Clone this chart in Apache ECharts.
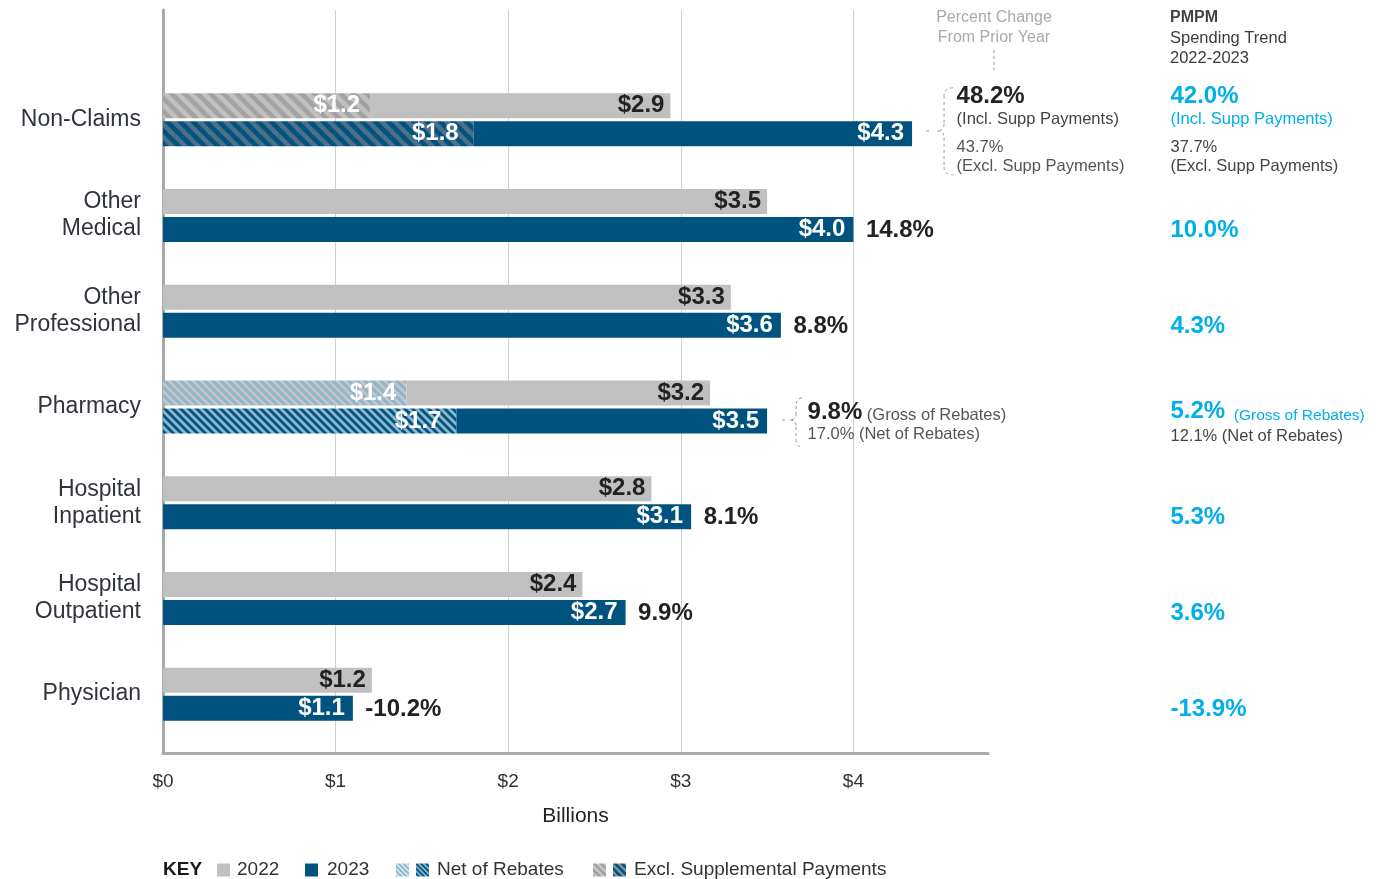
<!DOCTYPE html>
<html>
<head>
<meta charset="utf-8">
<script src="https://cdn.jsdelivr.net/npm/echarts@6/dist/echarts.min.js"></script>
<style>
html,body{margin:0;padding:0;background:#fff;}
#chart{width:1378px;height:879px;}
</style>
</head>
<body>
<div id="chart"></div>
<script>
// ---------------- DATA ----------------
const categories = ['Non-Claims', 'Other\nMedical', 'Other\nProfessional', 'Pharmacy', 'Hospital\nInpatient', 'Hospital\nOutpatient', 'Physician'];
const spend2022 = [2.94, 3.50, 3.29, 3.17, 2.83, 2.43, 1.21];
const spend2023 = [4.34, 4.00, 3.58, 3.50, 3.06, 2.68, 1.10];
// hatched portion (Excl. Supplemental Payments / Net of Rebates)
const subset2022 = [1.20, 0, 0, 1.41, 0, 0, 0];
const subset2023 = [1.80, 0, 0, 1.70, 0, 0, 0];
const subsetKind = ['supp', '', '', 'rebate', '', '', ''];
const pctChange = ['48.2%', '14.8%', '8.8%', '9.8%', '8.1%', '9.9%', '-10.2%'];
const pctChangeAlt = ['43.7%', '', '', '17.0%', '', '', ''];
const pmpmTrend = ['42.0%', '10.0%', '4.3%', '5.2%', '5.3%', '3.6%', '-13.9%'];
const pmpmTrendAlt = ['37.7%', '', '', '12.1%', '', '', ''];
const xTickLabels = ['$0', '$1', '$2', '$3', '$4'];

// ---------------- STYLE ----------------
const FONT = '"Liberation Sans", Arial, Helvetica, sans-serif';
const C22 = '#c1c0c1';
const C23 = '#01537f';
const CYAN = '#00aeea';
function stripe(bg, fg, p, w) {
  const c = document.createElement('canvas');
  c.width = p; c.height = p;
  const g = c.getContext('2d');
  g.fillStyle = bg; g.fillRect(0, 0, p, p);
  g.strokeStyle = fg; g.lineWidth = w;
  for (const k of [-p, 0, p]) {
    g.beginPath(); g.moveTo(k - 2, -2); g.lineTo(k + p + 2, p + 2); g.stroke();
  }
  return { image: c, repeat: 'repeat' };
}
const pat = {
  supp22: stripe('#c0c0c0', '#a3a3a3', 13, 4.6),
  supp23: stripe('#01537f', '#4d7088', 13, 4.6),
  reb22: stripe('#c4c4c4', '#8cb6ce', 8, 2.8),
  reb23: stripe('#01537f', '#8cb6ce', 8, 2.8)
};

const chart = echarts.init(document.getElementById('chart'), null, { renderer: 'canvas' });

const hatch22 = subset2022.map((v, i) => ({
  value: v,
  itemStyle: { color: subsetKind[i] === 'supp' ? pat.supp22 : pat.reb22 }
}));
const hatch23 = subset2023.map((v, i) => ({
  value: v,
  itemStyle: { color: subsetKind[i] === 'supp' ? pat.supp23 : pat.reb23 }
}));
const rest22 = spend2022.map((v, i) => +(v - subset2022[i]).toFixed(3));
const rest23 = spend2023.map((v, i) => +(v - subset2023[i]).toFixed(3));

const barLabelBase = { show: true, position: 'insideRight', fontSize: 24, fontWeight: 'bold', fontFamily: FONT, textBorderWidth: 0 };

const SM = 16.5;
const rich = {
  b: { fontSize: 24, fontWeight: 'bold', color: '#222', lineHeight: 26, fontFamily: FONT },
  bp: { fontSize: 24, fontWeight: 'bold', color: '#222', lineHeight: 24, fontFamily: FONT },
  s: { fontSize: SM, color: '#444', lineHeight: 20, fontFamily: FONT },
  sp: { fontSize: 1, lineHeight: 8 },
  s2: { fontSize: SM, color: '#555', lineHeight: 19, fontFamily: FONT },
  g: { fontSize: SM, color: '#555', lineHeight: 20, verticalAlign: 'bottom', fontFamily: FONT },
  n: { fontSize: SM, color: '#555', lineHeight: 20, fontFamily: FONT },
  c: { fontSize: 24, fontWeight: 'bold', color: CYAN, lineHeight: 26, fontFamily: FONT },
  cs: { fontSize: SM, color: CYAN, lineHeight: 20, fontFamily: FONT },
  cg: { fontSize: 15.5, color: CYAN, lineHeight: 20, verticalAlign: 'bottom', fontFamily: FONT },
  n2: { fontSize: SM, color: '#444', lineHeight: 24, fontFamily: FONT },
  s3: { fontSize: SM, color: '#444', lineHeight: 19, fontFamily: FONT }
};

const pctData = categories.map((cat, i) => {
  let fmt, dist = 12, dy = 15;
  if (subsetKind[i] === 'supp') {
    fmt = '{b|' + pctChange[i] + '}\n{s|(Incl. Supp Payments)}\n{sp| }\n{s2|' + pctChangeAlt[i] + '}\n{s2|(Excl. Supp Payments)}';
    dist = 44; dy = 10;
  } else if (subsetKind[i] === 'rebate') {
    fmt = '{bp|' + pctChange[i] + '}{g| (Gross of Rebates)}\n{n|' + pctChangeAlt[i] + ' (Net of Rebates)}';
    dist = 40; dy = 15;
  } else {
    fmt = '{b|' + pctChange[i] + '}';
  }
  return { value: [spend2023[i], cat], label: { formatter: fmt, distance: dist, offset: [0, dy] } };
});

const pmpmData = categories.map((cat, i) => {
  let fmt, dy = 15;
  if (subsetKind[i] === 'supp') {
    fmt = '{c|' + pmpmTrend[i] + '}\n{cs|(Incl. Supp Payments)}\n{sp| }\n{s3|' + pmpmTrendAlt[i] + '}\n{s3|(Excl. Supp Payments)}';
    dy = 10;
  } else if (subsetKind[i] === 'rebate') {
    fmt = '{c|' + pmpmTrend[i] + '}{cg|  (Gross of Rebates)}\n{n2|' + pmpmTrendAlt[i] + ' (Net of Rebates)}';
    dy = 16;
  } else {
    fmt = '{c|' + pmpmTrend[i] + '}';
  }
  return { value: [0, cat], label: { formatter: fmt, offset: [0, dy] } };
});

const option = {
  animation: false,
  backgroundColor: '#fff',
  textStyle: { fontFamily: FONT },
  grid: [
    { left: 163, width: 825, top: 10, height: 743, outerBoundsMode: 'none', containLabel: false },
    { left: 163, width: 825, top: 72, height: 670, outerBoundsMode: 'none', containLabel: false },
    { left: 1170, width: 150, top: 72, height: 670, outerBoundsMode: 'none', containLabel: false }
  ],
  xAxis: [
    {
      gridIndex: 0, type: 'value', min: 0, max: 4.78, interval: 1,
      axisLine: { show: true, onZero: false, lineStyle: { color: '#a9a9a9', width: 3 } },
      axisTick: { show: false },
      splitLine: { show: true, showMinLine: false, showMaxLine: false, lineStyle: { color: '#d0d0d0', width: 1 } },
      axisLabel: {
        show: true, color: '#333', fontSize: 19, margin: 19, fontFamily: FONT,
        showMaxLabel: false,
        formatter: v => (Number.isInteger(v) && xTickLabels[v] !== undefined) ? xTickLabels[v] : ''
      },
      name: 'Billions', nameLocation: 'middle', nameGap: 53,
      nameTextStyle: { fontSize: 21, color: '#222', fontFamily: FONT }
    },
    { gridIndex: 1, type: 'value', min: 0, max: 4.78, show: false },
    { gridIndex: 2, type: 'value', min: 0, max: 1, show: false }
  ],
  yAxis: [
    {
      gridIndex: 0, type: 'value', min: 0, max: 1,
      axisLine: { show: true, onZero: false, lineStyle: { color: '#a9a9a9', width: 3 } },
      axisLabel: { show: false }, axisTick: { show: false }, splitLine: { show: false }
    },
    {
      gridIndex: 1, type: 'category', data: categories, inverse: true,
      axisLine: { show: false }, axisTick: { show: false }, splitLine: { show: false },
      axisLabel: { color: '#30343c', fontSize: 23, lineHeight: 27, margin: 22, align: 'right', fontFamily: FONT, padding: [4, 0, 0, 0] }
    },
    { gridIndex: 2, type: 'category', data: categories, inverse: true, show: false }
  ],
  series: [
    {
      name: '2022 hatched', type: 'bar', xAxisIndex: 1, yAxisIndex: 1, stack: 'y22',
      barWidth: 25, barGap: '12%', data: hatch22,
      label: Object.assign({}, barLabelBase, { color: '#fff', distance: 10,
        formatter: p => subset2022[p.dataIndex] > 0 ? '$' + subset2022[p.dataIndex].toFixed(1) : '' })
    },
    {
      name: '2022', type: 'bar', xAxisIndex: 1, yAxisIndex: 1, stack: 'y22',
      barWidth: 25, barGap: '12%', data: rest22, itemStyle: { color: C22 },
      label: Object.assign({}, barLabelBase, { color: '#222', distance: 6,
        formatter: p => '$' + spend2022[p.dataIndex].toFixed(1) })
    },
    {
      name: '2023 hatched', type: 'bar', xAxisIndex: 1, yAxisIndex: 1, stack: 'y23',
      barWidth: 25, barGap: '12%', data: hatch23,
      label: Object.assign({}, barLabelBase, { color: '#fff', distance: 15,
        formatter: p => subset2023[p.dataIndex] > 0 ? '$' + subset2023[p.dataIndex].toFixed(1) : '' })
    },
    {
      name: '2023', type: 'bar', xAxisIndex: 1, yAxisIndex: 1, stack: 'y23',
      barWidth: 25, barGap: '12%', data: rest23, itemStyle: { color: C23 },
      label: Object.assign({}, barLabelBase, { color: '#fff', distance: 8,
        formatter: p => '$' + spend2023[p.dataIndex].toFixed(1) })
    },
    {
      name: 'pct', type: 'scatter', xAxisIndex: 1, yAxisIndex: 1,
      symbolSize: 1, itemStyle: { color: 'rgba(0,0,0,0)', opacity: 1 }, silent: true,
      label: { show: true, position: 'right', align: 'left', color: '#222', opacity: 1, textBorderWidth: 0, rich: rich },
      data: pctData, z: 5
    },
    {
      name: 'pmpm', type: 'scatter', xAxisIndex: 2, yAxisIndex: 2,
      symbolSize: 1, itemStyle: { color: 'rgba(0,0,0,0)', opacity: 1 }, silent: true,
      label: { show: true, position: 'right', distance: 0, align: 'left', color: CYAN, opacity: 1, textBorderWidth: 0, rich: rich },
      data: pmpmData, z: 5
    }
  ]
};
chart.setOption(option);

// ------------- annotations (headers, braces, key) -------------
const dash = { stroke: '#9a9a9a', lineWidth: 1, lineDash: [3, 3], fill: null };
const els = [];
function seg(x1, y1, x2, y2) {
  els.push({ type: 'line', silent: true, shape: { x1: x1, y1: y1, x2: x2, y2: y2 }, style: dash });
}
function curve(x1, y1, cx, cy, x2, y2) {
  els.push({ type: 'bezierCurve', silent: true, shape: { x1: x1, y1: y1, cpx1: cx, cpy1: cy, x2: x2, y2: y2 }, style: dash });
}
function braceFor(i, lead0, lead1, tip, vx, endx, halfUp, halfDown, dy) {
  const p = chart.convertToPixel({ xAxisIndex: 1, yAxisIndex: 1 }, [spend2023[i], categories[i]]);
  const x = p[0], cy = p[1] + dy;
  const top = cy - halfUp, bot = cy + halfDown;
  seg(x + lead0, cy, x + lead1, cy);
  curve(x + endx, top, x + vx, top, x + vx, top + 8);
  seg(x + vx, top + 8, x + vx, cy - 7);
  curve(x + vx, cy - 7, x + vx, cy, x + tip, cy);
  curve(x + tip, cy, x + vx, cy, x + vx, cy + 7);
  seg(x + vx, cy + 7, x + vx, bot - 8);
  curve(x + vx, bot - 8, x + vx, bot, x + endx, bot);
}
categories.forEach((c, i) => {
  if (subsetKind[i] === 'supp') braceFor(i, 14, 20, 25, 32, 41, 43, 44, 11);
  if (subsetKind[i] === 'rebate') braceFor(i, 15, 19, 23, 29, 35, 22, 27, 13);
});
// headers
els.push({ type: 'text', x: 994, y: 8, silent: true,
  style: { text: 'Percent Change\nFrom Prior Year', font: '16px ' + FONT, fill: '#a9a9a9', lineHeight: 20, align: 'center', textAlign: 'center' } });
seg(994, 50, 994, 70);
els.push({ type: 'text', x: 1170, y: 8, silent: true,
  style: { text: '{h|PMPM}\n{t|Spending Trend}\n{t|2022-2023}', rich: {
    h: { font: 'bold 16px ' + FONT, fill: '#444', lineHeight: 20 },
    t: { font: '16.5px ' + FONT, fill: '#3c3c3c', lineHeight: 20 } } } });
// key
const keyY = 870;
function keyText(x, t, bold) {
  els.push({ type: 'text', x: x, y: keyY, silent: true,
    style: { text: t, font: (bold ? 'bold ' : '') + '19px ' + FONT, fill: bold ? '#1a1a1a' : '#333', verticalAlign: 'middle', textVerticalAlign: 'middle' } });
}
function keySq(x, fill) {
  els.push({ type: 'rect', silent: true, shape: { x: x, y: keyY - 6.5, width: 13, height: 13 }, style: { fill: fill } });
}
keyText(163, 'KEY', true);
keySq(217, C22); keyText(237, '2022');
keySq(305, C23); keyText(327, '2023');
keySq(396, stripe('#d9e6ee', '#8cb6ce', 5, 1.8)); keySq(416, stripe('#01537f', '#8cb6ce', 5, 1.8)); keyText(437, 'Net of Rebates');
keySq(593, stripe('#a0a0a0', '#c8c8c8', 7, 2.4)); keySq(613, stripe('#01537f', '#7d93a3', 7, 2.4)); keyText(634, 'Excl. Supplemental Payments');

chart.setOption({ graphic: { elements: els } });
</script>
</body>
</html>
